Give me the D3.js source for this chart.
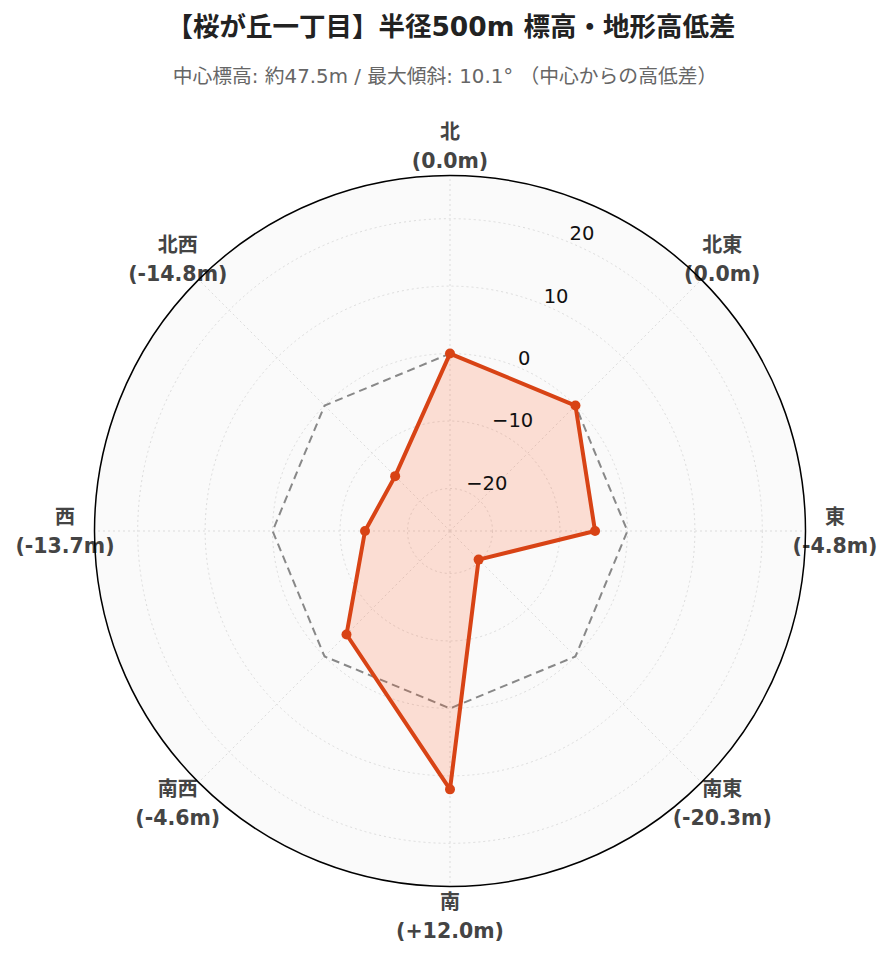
<!DOCTYPE html>
<html>
<head>
<meta charset="utf-8">
<script src="https://cdn.jsdelivr.net/npm/d3@7"></script>
<style>
  body { margin: 0; background: #fff; }
  svg { display: block; font-family: "DejaVu Sans", "Noto Sans CJK JP", sans-serif; }
</style>
</head>
<body>
<svg id="chart"></svg>
<script>
// data
var directions = ["北", "北東", "東", "南東", "南", "南西", "西", "北西"];
var diffs = [0.0, 0.0, -4.8, -20.3, 12.0, -4.6, -13.7, -14.8];
var diffLabels = ["(0.0m)", "(0.0m)", "(-4.8m)", "(-20.3m)", "(+12.0m)", "(-4.6m)", "(-13.7m)", "(-14.8m)"];
var baseline = [0, 0, 0, 0, 0, 0, 0, 0];
var radialTicks = [-20, -10, 0, 10, 20];
var titleText = "【桜が丘一丁目】半径500m 標高・地形高低差";
var subtitleText = "中心標高: 約47.5m / 最大傾斜: 10.1° （中心からの高低差）";

var width = 892, height = 962;
var cx = 450, cy = 531, outerR = 355.5;
var lineColor = "#d84315";

var svg = d3.select("#chart").attr("width", width).attr("height", height);

// radial scale (value -> radius)
var rScale = d3.scaleLinear().domain([-26.3, 26.4]).range([0, outerR]);
// angle scale: index -> radians, clockwise from north
var aScale = d3.scaleLinear().domain([0, directions.length]).range([0, 2 * Math.PI]);

function px(a, r) { return cx + r * Math.sin(a); }
function py(a, r) { return cy - r * Math.cos(a); }

// title
svg.append("text")
  .attr("x", 451).attr("y", 36)
  .attr("text-anchor", "middle")
  .style("font-size", "26.5px").style("font-weight", "bold").style("fill", "#222")
  .text(titleText);

svg.append("text")
  .attr("x", 445).attr("y", 83)
  .attr("text-anchor", "middle")
  .style("font-size", "19.8px").style("fill", "#666")
  .text(subtitleText);

var g = svg.append("g");

// polar background
g.append("circle").attr("cx", cx).attr("cy", cy).attr("r", outerR).attr("fill", "#fafafa");

// grid circles
g.selectAll(".gridcircle").data(radialTicks).enter().append("circle")
  .attr("class", "gridcircle")
  .attr("cx", cx).attr("cy", cy)
  .attr("r", function (d) { return rScale(d); })
  .attr("fill", "none").attr("stroke", "#dcdcdc").attr("stroke-width", 1)
  .attr("stroke-dasharray", "2,3");

// spokes
g.selectAll(".spoke").data(directions).enter().append("line")
  .attr("class", "spoke")
  .attr("x1", cx).attr("y1", cy)
  .attr("x2", function (d, i) { return px(aScale(i), outerR); })
  .attr("y2", function (d, i) { return py(aScale(i), outerR); })
  .attr("stroke", "#dcdcdc").attr("stroke-width", 1)
  .attr("stroke-dasharray", "2,3");

var radial = d3.lineRadial()
  .angle(function (d, i) { return aScale(i); })
  .radius(function (d) { return rScale(d); })
  .curve(d3.curveLinearClosed);

// zero reference line
g.append("path")
  .attr("transform", "translate(" + cx + "," + cy + ")")
  .attr("d", radial(baseline))
  .attr("fill", "none").attr("stroke", "#888").attr("stroke-width", 2)
  .attr("stroke-dasharray", "8,5");

// elevation difference polygon
g.append("path")
  .attr("transform", "translate(" + cx + "," + cy + ")")
  .attr("d", radial(diffs))
  .attr("fill", "rgba(255,87,34,0.18)")
  .attr("stroke", lineColor).attr("stroke-width", 4)
  .attr("stroke-linejoin", "round");

g.selectAll(".dot").data(diffs).enter().append("circle")
  .attr("class", "dot")
  .attr("cx", function (d, i) { return px(aScale(i), rScale(d)); })
  .attr("cy", function (d, i) { return py(aScale(i), rScale(d)); })
  .attr("r", 5)
  .attr("fill", lineColor);

// radial tick labels along 22.5deg
var tickAngle = Math.PI / 8;
g.selectAll(".rtick").data(radialTicks).enter().append("text")
  .attr("class", "rtick")
  .attr("x", function (d) { return px(tickAngle, rScale(d)); })
  .attr("y", function (d) { return py(tickAngle, rScale(d)) - 2; })
  .style("font-size", "19.5px").style("fill", "#111")
  .text(function (d) { return d < 0 ? "\u2212" + Math.abs(d) : d; });

// angular labels
var labelR = 385;
var lab = g.selectAll(".alabel").data(directions).enter().append("g")
  .attr("class", "alabel")
  .attr("transform", function (d, i) {
    return "translate(" + px(aScale(i), labelR) + "," + py(aScale(i), labelR) + ")";
  });
lab.append("text")
  .attr("text-anchor", "middle").attr("y", -7)
  .style("font-size", "20px").style("font-weight", "bold").style("fill", "#444")
  .text(function (d) { return d; });
lab.append("text")
  .attr("text-anchor", "middle").attr("y", 22)
  .style("font-size", "20.5px").style("font-weight", "bold").style("fill", "#444")
  .text(function (d, i) { return diffLabels[i]; });

// outer ring
g.append("circle").attr("cx", cx).attr("cy", cy).attr("r", outerR)
  .attr("fill", "none").attr("stroke", "#000").attr("stroke-width", 1.5);
</script>
</body>
</html>
